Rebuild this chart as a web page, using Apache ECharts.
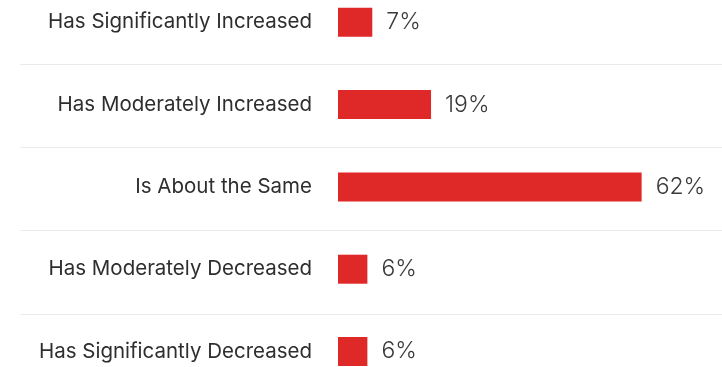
<!DOCTYPE html>
<html>
<head>
<meta charset="utf-8">
<script src="https://cdn.jsdelivr.net/npm/echarts@6/dist/echarts.min.js"></script>
<style>
html,body{margin:0;padding:0;background:#fff;}
#chart{width:722px;height:367px;}
</style>
</head>
<body>
<div id="chart"></div>
<script>
const categories = [
  "Has Significantly Increased",
  "Has Moderately Increased",
  "Is About the Same",
  "Has Moderately Decreased",
  "Has Significantly Decreased"
];
const values = [7, 19, 62, 6, 6];

const chart = echarts.init(document.getElementById('chart'), null, {renderer: 'canvas'});
chart.setOption({
  animation: false,
  backgroundColor: '#ffffff',
  grid: [
    {left: 20, right: 0, top: -19.3, height: 416.5, outerBoundsMode: 'none', containLabel: false},
    {left: 338, right: 2, top: -18.85, height: 411.5, outerBoundsMode: 'none', containLabel: false}
  ],
  xAxis: [
    {gridIndex: 0, type: 'value', show: false, min: 0, max: 1},
    {gridIndex: 1, type: 'value', show: false, min: 0, max: 78}
  ],
  yAxis: [
    {
      gridIndex: 0, type: 'category', data: categories, inverse: true,
      axisLine: {show: false}, axisTick: {show: false}, axisLabel: {show: false},
      splitLine: {show: true, lineStyle: {color: '#ebebeb', width: 1}}
    },
    {
      gridIndex: 1, type: 'category', data: categories, inverse: true,
      axisLine: {show: false}, axisTick: {show: false}, splitLine: {show: false},
      axisLabel: {
        margin: 26, color: '#2e2e2e', fontSize: 20.5,
        fontFamily: 'Inter', fontWeight: 400, padding: [2, 0, 0, 0]
      }
    }
  ],
  series: [{
    type: 'bar',
    xAxisIndex: 1, yAxisIndex: 1,
    data: values,
    barWidth: 29,
    itemStyle: {color: '#df2828'},
    label: {
      show: true, position: 'right', distance: 14,
      formatter: '{c}%', color: '#3a3a3a', fontSize: 23,
      fontFamily: 'Inter', fontWeight: 300
    }
  }]
});
</script>
</body>
</html>
